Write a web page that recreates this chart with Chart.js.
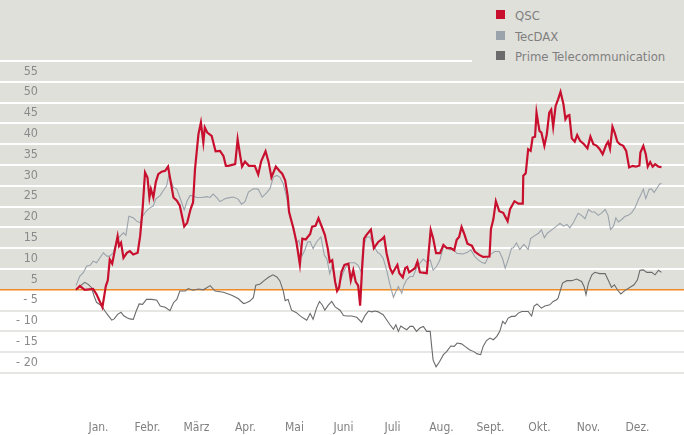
<!DOCTYPE html>
<html>
<head>
<meta charset="utf-8">
<script src="https://cdn.jsdelivr.net/npm/chart.js@4"></script>
<style>
  html, body { margin: 0; padding: 0; background: #fff; }
  #wrap { position: relative; width: 684px; height: 435px; }
  #legend {
    position: absolute; left: 472px; top: 0; width: 212px; height: 67px;
    background: #e0e0db; font-family: 'Liberation Sans Narrow', 'DejaVu Sans Condensed', Roboto, sans-serif;
    font-size: 13px; color: #7f7f7f;
  }
  #legend div { position: absolute; left: 24px; height: 14px; line-height: 14px; }
  #legend span { display: inline-block; width: 9px; height: 9px; margin-right: 10px; vertical-align: 1px; }
</style>
</head>
<body>
<div id="wrap">
  <canvas id="myChart" width="684" height="435"></canvas>
  <div id="legend"></div>
</div>
<script>
// months: 0 = start of January, 12 = end of December
const monthLabels = ['Jan.', 'Febr.', 'März', 'Apr.', 'Mai', 'Juni', 'Juli', 'Aug.', 'Sept.', 'Okt.', 'Nov.', 'Dez.'];
const yTickValues = [55, 50, 45, 40, 35, 30, 25, 20, 15, 10, 5, -5, -10, -15, -20];
const seriesNames = ['QSC', 'TecDAX', 'Prime Telecommunication'];
const seriesColors = ['#c8102e', '#9aa3ab', '#6b6b6b'];

// [month, change in %]
const qsc = [[0.04,0],[0.12,0.9],[0.22,0],[0.39,0.2],[0.46,-1.1],[0.58,-4.2],[0.65,0.9],[0.69,2.3],[0.73,7.3],[0.78,6.3],
  [0.85,10.5],[0.89,12.9],[0.92,10.5],[0.96,11.3],[1.01,7.7],[1.08,8.9],[1.14,9.3],[1.21,8.5],[1.30,8.9],[1.35,12.9],
  [1.40,19.4],[1.45,28.2],[1.50,27],[1.54,22.2],[1.57,24.2],[1.62,22.2],[1.67,25.9],[1.72,27.8],[1.79,28.4],[1.86,28.6],
  [1.92,29.6],[1.97,26.2],[2.03,22.2],[2.10,21.4],[2.16,20.2],[2.25,15.2],[2.31,16.1],[2.38,19.4],[2.43,21],[2.47,29],
  [2.54,37.4],[2.59,40.2],[2.64,35.4],[2.67,39],[2.72,37.8],[2.81,37],[2.89,33.3],[2.98,33.4],[3.05,32.2],[3.10,29.8],
  [3.15,29.8],[3.29,30.2],[3.34,36.2],[3.39,32.4],[3.43,29.6],[3.49,30.8],[3.57,29.8],[3.69,29.8],[3.76,27.7],[3.82,30.9],
  [3.91,33.3],[3.97,30.8],[4.03,27],[4.12,29.6],[4.20,28.5],[4.25,27.9],[4.31,26.3],[4.36,22.7],[4.39,18.7],[4.48,14.7],
  [4.54,11.5],[4.61,6.1],[4.66,12.3],[4.73,12.1],[4.82,13.4],[4.86,15.2],[4.93,15.4],[4.99,17.2],[5.06,15.1],[5.12,13.2],
  [5.18,9.9],[5.22,6.7],[5.27,7.1],[5.33,1.9],[5.37,-0.3],[5.41,0.5],[5.46,4.3],[5.52,6.0],[5.60,6.3],[5.65,2.3],
  [5.70,4.7],[5.75,1.9],[5.80,1],[5.84,-3.8],[5.88,5.1],[5.92,12.3],[5.97,13.2],[6.06,14.5],[6.12,10.0],[6.21,11.5],
  [6.28,12.1],[6.33,12.7],[6.38,8.8],[6.45,5.2],[6.50,4],[6.55,5],[6.60,6],[6.64,4],[6.71,3.0],[6.76,5.2],
  [6.80,5.5],[6.84,4.2],[6.91,4.8],[6.96,5.2],[7.01,6.8],[7.06,4.2],[7.20,4],[7.28,14.4],[7.33,12.4],[7.39,8.8],
  [7.47,8.8],[7.54,10.8],[7.61,10],[7.69,10],[7.76,9.5],[7.81,12],[7.86,12.7],[7.91,15.1],[7.96,13.6],[8.03,11.1],
  [8.12,10.6],[8.18,9.2],[8.27,8.4],[8.35,7.9],[8.48,8.0],[8.51,14.6],[8.56,17],[8.61,21.3],[8.68,18.9],[8.76,18.5],
  [8.85,16.5],[8.90,19.4],[8.99,21.3],[9.07,20.7],[9.16,20.7],[9.17,27.4],[9.22,28],[9.27,33.8],[9.32,33.4],[9.36,36.6],
  [9.41,36.8],[9.44,42.6],[9.50,38.2],[9.54,37.8],[9.60,34.6],[9.65,37.4],[9.70,42.6],[9.74,43.3],[9.78,39.2],[9.83,44.2],
  [9.88,45.8],[9.93,47.6],[9.99,44.6],[10.03,41],[10.07,41.8],[10.11,42],[10.16,36.4],[10.22,35.6],[10.27,37.2],[10.33,35.8],
  [10.41,35],[10.48,34],[10.54,36.8],[10.60,35],[10.67,34.6],[10.73,33.8],[10.79,32.6],[10.86,34.8],[10.90,35.6],[10.94,33.9],
  [10.99,39.2],[11.04,37.6],[11.09,35.6],[11.14,35],[11.21,34.6],[11.27,33.4],[11.33,29.4],[11.40,29.8],[11.47,29.6],[11.54,29.9],
  [11.56,33],[11.62,34.6],[11.67,32.6],[11.71,29.6],[11.76,30.7],[11.81,29.6],[11.86,30.2],[11.93,29.6],[11.99,29.5]];

const tecdax = [[0.04,1.0],[0.12,3.3],[0.19,4.1],[0.26,5.7],[0.33,5.9],[0.39,6.9],[0.46,6.5],[0.53,7.7],[0.60,8.9],[0.67,8.1],
  [0.73,8.1],[0.80,8.9],[0.87,11.7],[0.94,12.9],[1.01,13.7],[1.06,13.1],[1.12,17.7],[1.21,17.3],[1.28,16.5],[1.35,16.1],
  [1.40,17.7],[1.48,19],[1.55,19.7],[1.62,20.2],[1.67,21.8],[1.76,22.7],[1.82,23.8],[1.89,25],[1.94,27.8],[1.98,26.2],
  [2.03,24.6],[2.10,24.2],[2.16,22.2],[2.25,19.2],[2.31,21.4],[2.37,22.7],[2.42,22.6],[2.50,22.2],[2.61,22.2],[2.71,22.4],
  [2.78,22.2],[2.84,23],[2.91,22.2],[2.98,21.2],[3.08,21.9],[3.15,22.1],[3.25,22.3],[3.35,21.8],[3.42,20.6],[3.49,21.2],
  [3.56,23.5],[3.66,24.3],[3.76,24.2],[3.84,22.3],[3.93,23.3],[4.00,24.3],[4.07,27.1],[4.14,27.5],[4.20,27.1],[4.27,25.5],
  [4.34,22.3],[4.41,17.5],[4.48,15.1],[4.54,11.1],[4.59,11.9],[4.66,8.3],[4.71,9.5],[4.77,11.5],[4.82,11.6],[4.88,9.9],
  [4.95,11.5],[5.04,12.7],[5.11,8.3],[5.16,7.5],[5.22,3.9],[5.27,5.9],[5.33,1.9],[5.38,0],[5.43,1.9],[5.50,4.3],
  [5.57,5.9],[5.63,6.5],[5.73,6.5],[5.80,5.9],[5.86,4.3],[5.90,9.9],[5.97,12.7],[6.04,12.7],[6.11,10.7],[6.20,8.9],
  [6.24,8.7],[6.31,7.6],[6.38,4.8],[6.45,1.2],[6.52,-1.8],[6.57,-0.4],[6.62,0.8],[6.69,-0.8],[6.73,1],[6.79,2.4],
  [6.86,3.2],[6.92,3.2],[6.99,5.2],[7.06,6.4],[7.13,7.4],[7.20,6.6],[7.27,7.2],[7.33,4.7],[7.40,5.6],[7.47,7.2],
  [7.54,10.4],[7.61,10.2],[7.67,9.6],[7.74,9.8],[7.81,8.8],[7.88,8.7],[7.94,8.6],[8.03,9.0],[8.10,9.6],[8.18,8],
  [8.25,7.2],[8.32,6.6],[8.39,6.3],[8.46,8],[8.52,8.7],[8.59,9.2],[8.68,9.2],[8.75,7.4],[8.80,5.2],[8.86,7.2],
  [8.93,10.0],[8.97,10.1],[9.03,11.3],[9.10,9.7],[9.18,10.9],[9.27,9.7],[9.32,12.3],[9.39,12.9],[9.48,13.6],[9.54,14.4],
  [9.60,12.5],[9.66,13.6],[9.75,14.4],[9.85,15.3],[9.92,16],[9.99,15.3],[10.06,15.7],[10.12,14.9],[10.19,16.1],[10.29,18.4],
  [10.36,17.9],[10.43,17.1],[10.50,19.3],[10.57,18.7],[10.63,18.7],[10.70,17.9],[10.77,18.5],[10.84,19.3],[10.90,17.9],[10.95,14.5],
  [11.01,15.3],[11.06,17.3],[11.11,16.3],[11.18,16.9],[11.24,17.6],[11.31,17.9],[11.38,18.5],[11.45,19.7],[11.52,21.7],[11.56,22.6],
  [11.62,24.2],[11.67,21.9],[11.74,24.2],[11.79,24.2],[11.84,23.4],[11.89,24.3],[11.95,25.4],[11.99,25.6]];

const prime = [[0.04,0],[0.12,0.9],[0.22,1.8],[0.29,1.3],[0.36,0.5],[0.41,-1.5],[0.46,-3],[0.57,-3.9],[0.63,-5.1],[0.70,-6.2],
  [0.77,-7.3],[0.82,-7],[0.89,-5.9],[0.96,-5.4],[1.01,-6.2],[1.08,-6.7],[1.14,-7],[1.21,-7.1],[1.27,-5.1],[1.33,-3.4],
  [1.40,-3.5],[1.48,-2.3],[1.59,-2.3],[1.69,-2.5],[1.76,-3.9],[1.86,-4.2],[1.96,-5],[2.03,-3.1],[2.10,-2.3],[2.16,-0.3],
  [2.27,-0.3],[2.33,0.3],[2.43,-0.1],[2.54,0.2],[2.64,0],[2.78,1.0],[2.88,-0.3],[3.05,-0.6],[3.22,-1.3],[3.35,-2.1],
  [3.46,-3.3],[3.52,-3.1],[3.59,-2.7],[3.66,-1.9],[3.71,1.1],[3.80,1.4],[3.88,2.2],[3.97,3.0],[4.06,3.6],[4.14,3.1],
  [4.20,2.2],[4.27,-0.2],[4.31,-2.6],[4.37,-2.3],[4.44,-4.9],[4.54,-5.5],[4.61,-6.2],[4.68,-6.8],[4.75,-7.3],[4.82,-5.7],
  [4.88,-7.1],[4.95,-4.4],[5.01,-2.8],[5.07,-3.7],[5.12,-4.9],[5.19,-3.7],[5.26,-2.8],[5.33,-4.1],[5.43,-4.9],[5.50,-6.2],
  [5.57,-6.3],[5.67,-6.3],[5.77,-6.6],[5.87,-7.8],[5.94,-6.2],[6.01,-5.1],[6.08,-5.3],[6.14,-5.1],[6.21,-5.3],[6.24,-5.5],
  [6.31,-6],[6.38,-7.2],[6.45,-8.4],[6.52,-9.5],[6.57,-8.4],[6.62,-10],[6.67,-8.7],[6.73,-9.2],[6.79,-9.6],[6.86,-8.8],
  [6.92,-8.8],[6.99,-10],[7.06,-9.2],[7.13,-8.8],[7.20,-10],[7.27,-10],[7.30,-13.6],[7.33,-16.9],[7.39,-18.5],[7.46,-17.3],
  [7.54,-15.6],[7.61,-14.8],[7.69,-13.5],[7.76,-13.6],[7.82,-12.8],[7.91,-13],[7.98,-13.6],[8.07,-14.4],[8.15,-14.8],[8.23,-15.4],
  [8.30,-15.6],[8.35,-13.6],[8.42,-12.2],[8.49,-11.6],[8.56,-12],[8.63,-11.2],[8.69,-10],[8.75,-7.6],[8.80,-8.2],[8.86,-6.8],
  [8.93,-6.4],[9.00,-6.4],[9.07,-5.6],[9.14,-5.2],[9.27,-5.2],[9.34,-6.3],[9.39,-3.9],[9.45,-3.4],[9.54,-4.4],[9.61,-3.9],
  [9.71,-3.6],[9.78,-2.8],[9.85,-2.4],[9.88,-2.0],[9.97,1.6],[10.06,2.2],[10.16,2.2],[10.26,2.6],[10.36,2.0],[10.41,0.8],
  [10.45,-1.2],[10.50,1.6],[10.57,3.6],[10.63,4.2],[10.73,3.9],[10.84,3.9],[10.90,2.4],[10.97,0.6],[11.03,1.2],[11.09,0],
  [11.16,-1],[11.24,-0.2],[11.35,0.6],[11.43,1.2],[11.50,2.4],[11.55,4.7],[11.62,4.8],[11.69,4.2],[11.79,4.2],[11.86,3.6],
  [11.93,4.7],[11.99,4.2]];

const fontFamily = "'Liberation Sans Narrow', 'DejaVu Sans Condensed', Roboto, sans-serif";
const toPoints = arr => arr.map(p => ({x: p[0], y: p[1]}));

// legend (html)
const legendEl = document.getElementById('legend');
seriesNames.forEach((name, i) => {
  let row = document.createElement('div');
  row.style.top = (9 + i * 20.5) + 'px';
  row.innerHTML = '<span style="background:' + seriesColors[i] + '"></span>' + name;
  legendEl.appendChild(row);
});

// gray background above the zero line
const bgPlugin = {
  id: 'bg',
  beforeDraw(chart) {
    const c = chart.ctx;
    const zero = chart.scales.y.getPixelForValue(0);
    c.save();
    c.fillStyle = '#e0e0db';
    c.fillRect(0, 0, chart.width, zero);
    c.fillStyle = '#ffffff';
    c.fillRect(0, zero, chart.width, chart.height - zero);
    c.restore();
  }
};

// axes take no room, so the plot (and its grid) runs across the full width
const noRoomY = s => { s.width = 0; s.paddingTop = 0; s.paddingBottom = 0; };

let ctx = document.getElementById('myChart').getContext('2d');
let myChart = new Chart(ctx, {
  type: 'line',
  data: {
    datasets: [qsc, tecdax, prime].map((s, i) => ({
      label: seriesNames[i],
      data: toPoints(s),
      borderColor: seriesColors[i],
      borderWidth: i === 0 ? 2.2 : 1.1,
      pointRadius: 0,
      tension: 0
    }))
  },
  options: {
    responsive: false,
    animation: false,
    layout: { padding: { top: 61, bottom: 0, left: 0, right: 0 } },
    plugins: { legend: { display: false }, tooltip: { enabled: false } },
    scales: {
      x: {
        type: 'linear',
        min: -1.51,
        max: 12.45,
        grid: { display: false },
        border: { display: false },
        afterBuildTicks: scale => {
          scale.ticks = monthLabels.map((m, i) => ({ value: i + 0.5 }));
        },
        afterFit: s => { s.height = 62; s.paddingLeft = 0; s.paddingRight = 0; },
        ticks: {
          autoSkip: false,
          maxRotation: 0,
          padding: 40,
          color: '#808080',
          font: { family: fontFamily, size: 12 },
          callback: (v, i) => monthLabels[i]
        }
      },
      y: {
        min: -20,
        max: 55,
        position: 'left',
        ticks: { display: false, stepSize: 5 },
        border: { display: false },
        afterFit: noRoomY,
        grid: {
          drawTicks: false,
          color: c => c.tick.value === 0 ? '#f08a24' : (c.tick.value > 0 ? '#ffffff' : '#e6e6e3'),
          lineWidth: c => c.tick.value === 0 ? 1.5 : 2
        }
      },
      yl: {
        min: -20,
        max: 55,
        position: 'left',
        grid: { display: false },
        border: { display: false },
        afterFit: noRoomY,
        afterBuildTicks: scale => {
          scale.ticks = yTickValues.map(v => ({ value: v > 0 ? v - 2.5 : v + 2.5 }));
        },
        ticks: {
          mirror: true,
          crossAlign: 'far',
          padding: 16,
          color: '#8a8a8a',
          font: { family: fontFamily, size: 12.5 },
          callback: value => {
            let v = Math.round(value > 0 ? value + 2.5 : value - 2.5);
            return v > 0 ? String(v) : '- ' + (-v);
          }
        }
      }
    }
  },
  plugins: [bgPlugin]
});
</script>
</body>
</html>
